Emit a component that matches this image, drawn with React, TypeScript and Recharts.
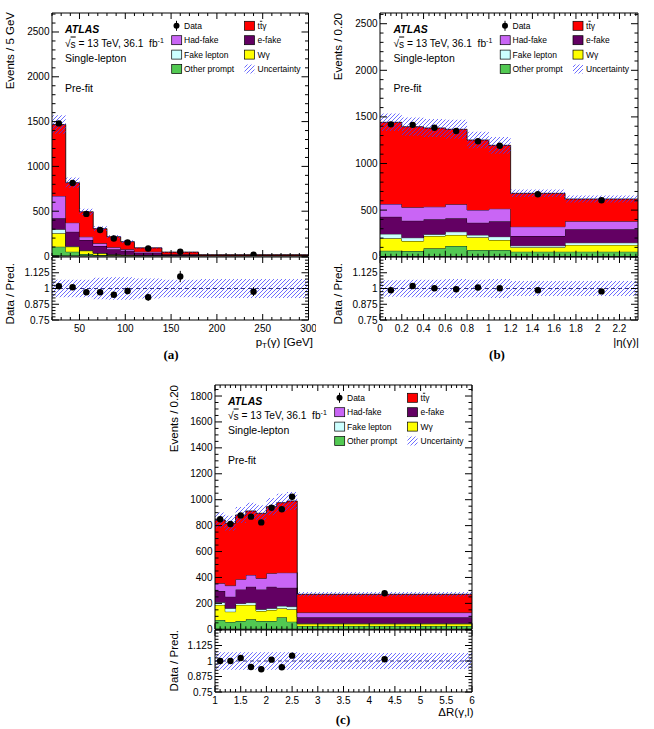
import React from "react";
import {
  ComposedChart,
  Area,
  Scatter,
  ErrorBar,
  XAxis,
  YAxis,
  ReferenceLine,
  ReferenceArea,
} from "recharts";

const FONT = '"Liberation Sans", Arial, Helvetica, sans-serif';

// Samples, stacked bottom to top ("ttbar" is drawn with an overline in the legend)
const sampleNames = ["Other prompt", "Wγ", "Fake lepton", "e-fake", "Had-fake", "ttγ"];
const sampleColors = ["#52c952", "#ffff00", "#ccffff", "#630063", "#c965f5", "#ff0000"];

// ---- (a) photon pT, events / 5 GeV ----
const ptEdges = [20, 35, 50, 65, 80, 95, 110, 140, 180, 300];
const ptOther = [104, 48, 22, 11, 7, 5, 3, 2, 0.5];
const ptWgamma = [149, 56, 37, 19, 10, 7, 5, 3, 1];
const ptFakeLep = [45, 5, 4, 3, 2, 1, 1, 0.5, 0.2];
const ptEFake = [122, 162, 116, 79, 56, 46, 28, 10, 3];
const ptHadFake = [250, 101, 36, 29, 22, 15, 11, 4, 1.5];
const ptTtgamma = [797, 446, 278, 164, 118, 86, 43, 24, 8.8];
const ptData = [1480, 815, 470, 290, 195, 152, 84, 48, 15];
const ptDataErr = [12, 9, 7, 5, 4, 3, 2, 2.5, 0.8];
const ptUnc = [0.07, 0.07, 0.07, 0.085, 0.09, 0.09, 0.08, 0.07, 0.075];
const ptRatio = [1.018, 1.01, 0.97, 0.97, 0.95, 0.98, 0.93, 1.095, 0.975];
const ptRatioErr = [0.012, 0.014, 0.018, 0.02, 0.022, 0.026, 0.028, 0.045, 0.035];
const ptXTicks = [50, 100, 150, 200, 250, 300];
const ptXLabels = ["50", "100", "150", "200", "250", "300"];
const ptYTicks = [0, 500, 1000, 1500, 2000, 2500];
const ptYLabels = ["0", "500", "1000", "1500", "2000", "2500"];

// ---- (b) photon |eta|, events / 0.20 ----
const etaEdges = [0, 0.2, 0.4, 0.6, 0.8, 1.0, 1.2, 1.7, 2.37];
const etaOther = [64, 61, 90, 115, 72, 72, 54, 54];
const etaWgamma = [133, 107, 132, 118, 136, 107, 47, 72];
const etaFakeLep = [47, 36, 18, 35, 25, 36, 17, 24];
const etaEFake = [185, 182, 161, 144, 132, 165, 104, 144];
const etaHadFake = [136, 144, 135, 150, 136, 135, 100, 86];
const etaTtgamma = [877, 865, 845, 805, 751, 680, 358, 239];
const etaData = [1420, 1415, 1384, 1349, 1238, 1191, 670, 605];
const etaDataErr = [9, 9, 9, 9, 9, 9, 5, 4];
const etaUnc = [0.065, 0.07, 0.07, 0.075, 0.07, 0.075, 0.06, 0.06];
const etaRatio = [0.986, 1.02, 1.002, 0.994, 1.008, 1.002, 0.986, 0.977];
const etaRatioErr = [0.012, 0.012, 0.012, 0.012, 0.013, 0.013, 0.014, 0.014];
const etaXTicks = [0, 0.2, 0.4, 0.6, 0.8, 1, 1.2, 1.4, 1.6, 1.8, 2, 2.2];
const etaXLabels = ["0", "0.2", "0.4", "0.6", "0.8", "1", "1.2", "1.4", "1.6", "1.8", "2", "2.2"];

// ---- (c) Delta R(photon, lepton), events / 0.20 ----
const drEdges = [1.0, 1.2, 1.4, 1.6, 1.8, 2.0, 2.2, 2.4, 2.6, 6.0];
const drOther = [72, 57, 64, 77, 64, 64, 93, 59, 26];
const drWgamma = [116, 79, 124, 111, 77, 85, 69, 95, 16];
const drFakeLep = [20, 26, 12, 18, 13, 13, 18, 21, 4];
const drEFake = [88, 90, 108, 123, 154, 167, 141, 146, 47];
const drHadFake = [59, 85, 78, 90, 85, 103, 116, 116, 36];
const drTtgamma = [488, 481, 496, 494, 502, 514, 540, 553, 141];
const drData = [849, 812, 879, 869, 825, 938, 926, 1023, 278];
const drDataErr = [18, 18, 18, 18, 18, 19, 19, 20, 5];
const drUnc = [0.07, 0.07, 0.07, 0.07, 0.07, 0.07, 0.07, 0.07, 0.065];
const drRatio = [1.0, 1.0, 1.024, 0.952, 0.933, 1.011, 0.949, 1.043, 1.014];
const drRatioErr = [0.016, 0.016, 0.016, 0.016, 0.016, 0.016, 0.016, 0.016, 0.01];
const drXTicks = [1, 1.5, 2, 2.5, 3, 3.5, 4, 4.5, 5, 5.5, 6];
const drXLabels = ["1", "1.5", "2", "2.5", "3", "3.5", "4", "4.5", "5", "5.5", "6"];
const drYTicks = [0, 200, 400, 600, 800, 1000, 1200, 1400, 1600, 1800];
const drYLabels = ["0", "200", "400", "600", "800", "1000", "1200", "1400", "1600", "1800"];

const ratioTicks = [0.75, 0.875, 1, 1.125, 1.25];
const ratioLabels = ["0.75", "0.875", "1", "1.125", ""];

const HATCH_COLOR = "#3c3cff";

interface Frame {
  left: number;
  top: number;
  width: number;
  height: number;
  ratioTop: number;
  ratioHeight: number;
}

interface HistSpec {
  id: string;
  edges: number[];
  stack: number[][];
  data: number[];
  dataErr: number[];
  unc: number[];
  ratio: number[];
  ratioErr: number[];
  xMajor: number[];
  xLabels: string[];
  xMinor: number;
  yMax: number;
  yMajor: number[];
  yLabels: string[];
  yMinor: number;
  frame: Frame;
}

const panels: HistSpec[] = [
  {
    id: "pt",
    edges: ptEdges,
    stack: [ptOther, ptWgamma, ptFakeLep, ptEFake, ptHadFake, ptTtgamma],
    data: ptData,
    dataErr: ptDataErr,
    unc: ptUnc,
    ratio: ptRatio,
    ratioErr: ptRatioErr,
    xMajor: ptXTicks,
    xLabels: ptXLabels,
    xMinor: 10,
    yMax: 2712,
    yMajor: ptYTicks,
    yLabels: ptYLabels,
    yMinor: 100,
    frame: { left: 51.5, top: 13, width: 256.5, height: 243, ratioTop: 257, ratioHeight: 63 },
  },
  {
    id: "eta",
    edges: etaEdges,
    stack: [etaOther, etaWgamma, etaFakeLep, etaEFake, etaHadFake, etaTtgamma],
    data: etaData,
    dataErr: etaDataErr,
    unc: etaUnc,
    ratio: etaRatio,
    ratioErr: etaRatioErr,
    xMajor: etaXTicks,
    xLabels: etaXLabels,
    xMinor: 0.05,
    yMax: 2615,
    yMajor: ptYTicks,
    yLabels: ptYLabels,
    yMinor: 100,
    frame: { left: 380, top: 13, width: 258, height: 243.7, ratioTop: 257, ratioHeight: 63 },
  },
  {
    id: "dr",
    edges: drEdges,
    stack: [drOther, drWgamma, drFakeLep, drEFake, drHadFake, drTtgamma],
    data: drData,
    dataErr: drDataErr,
    unc: drUnc,
    ratio: drRatio,
    ratioErr: drRatioErr,
    xMajor: drXTicks,
    xLabels: drXLabels,
    xMinor: 0.1,
    yMax: 1885,
    yMajor: drYTicks,
    yLabels: drYLabels,
    yMinor: 50,
    frame: { left: 214.5, top: 385, width: 257, height: 244.3, ratioTop: 630, ratioHeight: 62 },
  },
];

const near = (a: number, b: number) => Math.abs(a - b) < 1e-6;

function gridTicks(lo: number, hi: number, step: number) {
  const out: number[] = [];
  const start = Math.ceil(lo / step - 1e-6);
  for (let k = start; k * step <= hi + 1e-6; k++) out.push(+(k * step).toFixed(6));
  return out;
}

function mergeTicks(major: number[], minor: number[]) {
  const all = [...major];
  minor.forEach((v) => {
    if (!all.some((m) => near(m, v))) all.push(v);
  });
  return all.sort((a, b) => a - b);
}

// one row per bin edge; the last edge repeats the last bin so stepAfter closes it
function buildRows(h: HistSpec) {
  const n = h.edges.length - 1;
  return h.edges.map((x, i) => {
    const b = Math.min(i, n - 1);
    const row: Record<string, any> = { x };
    let total = 0;
    h.stack.forEach((s, k) => {
      row["s" + k] = s[b];
      total += s[b];
    });
    row.band = [total * (1 - h.unc[b]), total * (1 + h.unc[b])];
    row.rband = [1 - h.unc[b], 1 + h.unc[b]];
    return row;
  });
}

function makeXTick(top: number, bottom: number, majors: number[], labels: string[] | null) {
  return (props: any) => {
    const { x, payload } = props;
    const idx = majors.findIndex((m) => near(m, payload.value));
    const len = idx >= 0 ? 6 : 3;
    return (
      <g>
        <line x1={x} x2={x} y1={bottom} y2={bottom - len} stroke="#000" strokeWidth={1} />
        <line x1={x} x2={x} y1={top} y2={top + len} stroke="#000" strokeWidth={1} />
        {labels && idx >= 0 && labels[idx] !== "" && (
          <text
            x={x}
            y={bottom + 8}
            textAnchor="middle"
            dominantBaseline="central"
            fontSize={10}
            fontFamily={FONT}
            fill="#000"
          >
            {labels[idx]}
          </text>
        )}
      </g>
    );
  };
}

function makeYTick(left: number, right: number, majors: number[], labels: string[]) {
  return (props: any) => {
    const { y, payload } = props;
    const idx = majors.findIndex((m) => near(m, payload.value));
    const len = idx >= 0 ? 7 : 3.5;
    return (
      <g>
        <line x1={left} x2={left + len} y1={y} y2={y} stroke="#000" strokeWidth={1} />
        <line x1={right} x2={right - len} y1={y} y2={y} stroke="#000" strokeWidth={1} />
        {idx >= 0 && labels[idx] !== "" && (
          <text
            x={left - 2.5}
            y={y}
            textAnchor="end"
            dominantBaseline="central"
            fontSize={10}
            fontFamily={FONT}
            fill="#000"
          >
            {labels[idx]}
          </text>
        )}
      </g>
    );
  };
}

const Dot = (p: any) =>
  p.cx == null ? <g /> : <circle cx={p.cx} cy={p.cy} r={3.2} fill="#000" />;

function HatchPattern({ id }: { id: string }) {
  return (
    <pattern id={id} patternUnits="userSpaceOnUse" width={4} height={4}>
      <path
        d="M-1,1 L1,-1 M0,4 L4,0 M3,5 L5,3"
        stroke={HATCH_COLOR}
        strokeOpacity={0.75}
        strokeWidth={1}
      />
    </pattern>
  );
}

const AXW = 48;
const PADT = 8;
const PADR = 8;
const AXH = 24;

function HistPanel({ h }: { h: HistSpec }) {
  const f = h.frame;
  const rows = buildRows(h);
  const centers = h.edges.slice(0, -1).map((e, i) => (e + h.edges[i + 1]) / 2);
  const dataPts = centers.map((x, i) => ({ x, y: h.data[i], err: h.dataErr[i] }));
  const ratioPts = centers.map((x, i) => ({ x, y: h.ratio[i], err: h.ratioErr[i] }));
  const xDomain: [number, number] = [h.edges[0], h.edges[h.edges.length - 1]];
  const xTicks = mergeTicks(h.xMajor, gridTicks(xDomain[0], xDomain[1], h.xMinor));
  const yTicks = mergeTicks(h.yMajor, gridTicks(0, h.yMax, h.yMinor));
  const rTicks = mergeTicks(ratioTicks, gridTicks(0.75, 1.25, 0.025));
  const W = AXW + f.width + PADR;
  const pl = AXW;
  const pr = AXW + f.width;

  return (
    <>
      <div style={{ position: "absolute", left: f.left - AXW, top: f.top - PADT }}>
        <ComposedChart
          width={W}
          height={PADT + f.height + AXH}
          data={rows}
          margin={{ top: PADT, right: PADR, bottom: 0, left: 0 }}
        >
          <defs>
            <HatchPattern id={`hatch-${h.id}`} />
          </defs>
          <XAxis
            dataKey="x"
            type="number"
            domain={xDomain}
            allowDataOverflow
            ticks={xTicks}
            interval={0}
            tick={makeXTick(PADT, PADT + f.height, h.xMajor, null)}
            tickLine={false}
            axisLine={false}
            height={AXH}
          />
          <YAxis
            type="number"
            domain={[0, h.yMax]}
            allowDataOverflow
            ticks={yTicks}
            interval={0}
            tick={makeYTick(pl, pr, h.yMajor, h.yLabels)}
            tickLine={false}
            axisLine={false}
            width={AXW}
          />
          {h.stack.map((_, k) => (
            <Area
              key={k}
              dataKey={"s" + k}
              stackId="mc"
              type="stepAfter"
              fill={sampleColors[k]}
              fillOpacity={1}
              stroke="#000"
              strokeWidth={0.8}
              dot={false}
              activeDot={false}
              isAnimationActive={false}
            />
          ))}
          <Area
            dataKey="band"
            type="stepAfter"
            fill={`url(#hatch-${h.id})`}
            fillOpacity={1}
            stroke="none"
            dot={false}
            activeDot={false}
            isAnimationActive={false}
          />
          <Scatter data={dataPts} dataKey="y" shape={Dot} isAnimationActive={false}>
            <ErrorBar dataKey="err" direction="y" width={0} stroke="#000" strokeWidth={1} />
          </Scatter>
          <ReferenceArea
            x1={xDomain[0]}
            x2={xDomain[1]}
            y1={0}
            y2={h.yMax}
            fill="none"
            fillOpacity={0}
            stroke="#000"
            strokeWidth={1}
          />
        </ComposedChart>
      </div>
      <div style={{ position: "absolute", left: f.left - AXW, top: f.ratioTop - PADT }}>
        <ComposedChart
          width={W}
          height={PADT + f.ratioHeight + AXH}
          data={rows}
          margin={{ top: PADT, right: PADR, bottom: 0, left: 0 }}
        >
          <defs>
            <HatchPattern id={`rhatch-${h.id}`} />
          </defs>
          <XAxis
            dataKey="x"
            type="number"
            domain={xDomain}
            allowDataOverflow
            ticks={xTicks}
            interval={0}
            tick={makeXTick(PADT, PADT + f.ratioHeight, h.xMajor, h.xLabels)}
            tickLine={false}
            axisLine={false}
            height={AXH}
          />
          <YAxis
            type="number"
            domain={[0.75, 1.25]}
            allowDataOverflow
            ticks={rTicks}
            interval={0}
            tick={makeYTick(pl, pr, ratioTicks, ratioLabels)}
            tickLine={false}
            axisLine={false}
            width={AXW}
          />
          <Area
            dataKey="rband"
            type="stepAfter"
            fill={`url(#rhatch-${h.id})`}
            fillOpacity={1}
            stroke="none"
            dot={false}
            activeDot={false}
            isAnimationActive={false}
          />
          <ReferenceLine y={1} stroke="#25257a" strokeDasharray="4 3" strokeWidth={0.9} />
          <Scatter data={ratioPts} dataKey="y" shape={Dot} isAnimationActive={false}>
            <ErrorBar dataKey="err" direction="y" width={0} stroke="#000" strokeWidth={1} />
          </Scatter>
          <ReferenceArea
            x1={xDomain[0]}
            x2={xDomain[1]}
            y1={0.75}
            y2={1.25}
            fill="none"
            fillOpacity={0}
            stroke="#000"
            strokeWidth={1}
          />
        </ComposedChart>
      </div>
    </>
  );
}

// legend layout: two columns, four rows (null = data / uncertainty entry)
const legendRows = [12.8, 27.2, 41.6, 56];
const legendCol1 = [null, 4, 2, 0];
const legendCol2 = [5, 3, 1, null];

function SampleLabel({ k }: { k: number }) {
  if (k === 5) {
    return (
      <>
        t<tspan textDecoration="overline">t</tspan>γ
      </>
    );
  }
  return <>{sampleNames[k]}</>;
}

function PanelLabels({ left, top }: { left: number; top: number }) {
  const box = (x: number, y: number, k: number | null) =>
    k === null ? (
      <rect x={x} y={y - 4.5} width={10} height={9} fill="url(#hatch-legend)" />
    ) : (
      <rect x={x} y={y - 4.5} width={10} height={9} fill={sampleColors[k]} stroke="#000" strokeWidth={0.7} />
    );
  return (
    <g fontFamily={FONT} fill="#000">
      <text x={left + 13.5} y={top + 16.3} fontSize={10.5} fontWeight="bold" fontStyle="italic" dominantBaseline="central">
        ATLAS
      </text>
      <text x={left + 13.5} y={top + 30.5} fontSize={10.2} dominantBaseline="central">
        √<tspan textDecoration="overline">s</tspan> = 13 TeV, 36.1{"\u00a0 "}fb
        <tspan dy={-4} fontSize={7}>-1</tspan>
      </text>
      <text x={left + 13.5} y={top + 45} fontSize={10.5} dominantBaseline="central">
        Single-lepton
      </text>
      <text x={left + 13.5} y={top + 74.5} fontSize={10.5} dominantBaseline="central">
        Pre-fit
      </text>
      {legendRows.map((ry, r) => {
        const y = top + ry;
        const k1 = legendCol1[r];
        const k2 = legendCol2[r];
        return (
          <g key={r}>
            {k1 === null ? (
              <g>
                <line x1={left + 125} x2={left + 125} y1={y - 5} y2={y + 5} stroke="#000" strokeWidth={1} />
                <circle cx={left + 125} cy={y} r={3} fill="#000" />
              </g>
            ) : (
              box(left + 120.2, y, k1)
            )}
            <text x={left + 132.5} y={y} fontSize={8.5} dominantBaseline="central">
              {k1 === null ? "Data" : <SampleLabel k={k1} />}
            </text>
            {box(left + 193, y, k2)}
            <text x={left + 206} y={y} fontSize={8.5} dominantBaseline="central">
              {k2 === null ? "Uncertainty" : <SampleLabel k={k2} />}
            </text>
          </g>
        );
      })}
    </g>
  );
}

function VTitle({ x, yEnd, text }: { x: number; yEnd: number; text: string }) {
  return (
    <text
      transform={`translate(${x},${yEnd}) rotate(-90)`}
      textAnchor="end"
      dominantBaseline="central"
      fontSize={11.5}
      fontFamily={FONT}
      fill="#000"
    >
      {text}
    </text>
  );
}

export default function App() {
  return (
    <div style={{ position: "absolute", left: 0, top: 0, width: 654, height: 729, background: "#fff" }}>
      {panels.map((h) => (
        <HistPanel key={h.id} h={h} />
      ))}
      <svg
        width={654}
        height={729}
        style={{ position: "absolute", left: 0, top: 0, pointerEvents: "none" }}
      >
        <defs>
          <HatchPattern id="hatch-legend" />
        </defs>
        {panels.map((h) => (
          <PanelLabels key={h.id} left={h.frame.left} top={h.frame.top} />
        ))}

        <VTitle x={10} yEnd={12} text="Events / 5 GeV" />
        <VTitle x={10} yEnd={263} text="Data / Pred." />
        <VTitle x={338} yEnd={13} text="Events / 0.20" />
        <VTitle x={338} yEnd={263} text="Data / Pred." />
        <VTitle x={173.5} yEnd={385} text="Events / 0.20" />
        <VTitle x={173.5} yEnd={630} text="Data / Pred." />

        <g fontFamily={FONT} fontSize={11.5} fill="#000">
          <text x={313} y={342} textAnchor="end" dominantBaseline="central">
            p<tspan dy={3} fontSize={8}>T</tspan>
            <tspan dy={-3}>(γ) [GeV]</tspan>
          </text>
          <text x={639} y={342} textAnchor="end" dominantBaseline="central">
            |η(γ)|
          </text>
          <text x={473.5} y={712} textAnchor="end" dominantBaseline="central">
            ΔR(γ,l)
          </text>
        </g>

        <g fontFamily="'Liberation Serif', 'Times New Roman', serif" fontSize={13} fontWeight="bold" fill="#000">
          <text x={171} y={354} textAnchor="middle" dominantBaseline="central">(a)</text>
          <text x={497} y={354} textAnchor="middle" dominantBaseline="central">(b)</text>
          <text x={343} y={719} textAnchor="middle" dominantBaseline="central">(c)</text>
        </g>
      </svg>
    </div>
  );
}
